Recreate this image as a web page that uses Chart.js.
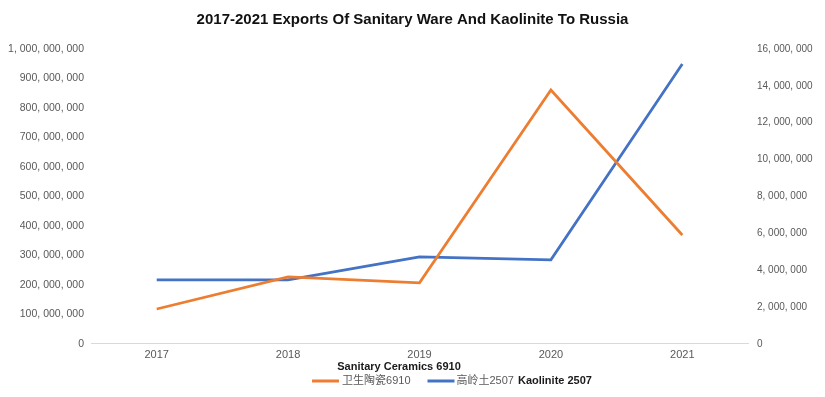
<!DOCTYPE html>
<html>
<head>
<meta charset="utf-8">
<script src="https://cdn.jsdelivr.net/npm/chart.js@4/dist/chart.umd.min.js"></script>
<style>
  html, body { margin: 0; padding: 0; background: #fff; }
  #wrap { width: 825px; height: 397px; }
</style>
</head>
<body>
<div id="wrap"><canvas id="myChart" width="825" height="397"></canvas></div>
<script>
// data
let years = ['2017', '2018', '2019', '2020', '2021'];
let ceramicsLabel = '卫生陶瓷6910';
let kaolinLabel = '高岭土2507';
let ceramics = [118000000, 227000000, 207000000, 861000000, 369000000];
let kaolin = [3470000, 3470000, 4720000, 4560000, 15190000];
let leftTicks = [0, 1000000000, 100000000];
let rightTicks = [0, 16000000, 2000000];

const fmt = v => v.toLocaleString('en-US').replace(/,/g, ', ');
const font = '"Liberation Sans", "Noto Sans CJK SC", Arial, sans-serif';

// legend drawn by hand, plus the English captions next to it
const legendLine = {
  id: 'legendLine',
  afterDraw(chart) {
    let ctx = chart.ctx;
    let sets = chart.data.datasets;
    let y = 381;
    ctx.save();
    ctx.font = '11px ' + font;
    ctx.textBaseline = 'middle';
    ctx.textAlign = 'left';
    let w0 = ctx.measureText(sets[0].label).width;
    let w1 = ctx.measureText(sets[1].label).width;
    let total = 27 + 3 + w0 + 17 + 27 + 2 + w1;
    let x = 413 - total / 2;
    [[sets[0], w0, 3], [sets[1], w1, 2]].forEach(([ds, w, gap], i) => {
      ctx.strokeStyle = ds.borderColor;
      ctx.lineWidth = 3;
      ctx.beginPath();
      ctx.moveTo(x, y);
      ctx.lineTo(x + 27, y);
      ctx.stroke();
      ctx.fillStyle = '#595959';
      ctx.fillText(ds.label, x + 27 + gap, y);
      x += 27 + gap + w + 17;
    });
    ctx.fillStyle = '#1a1a1a';
    ctx.font = 'bold 11px ' + font;
    ctx.textAlign = 'center';
    ctx.fillText('Sanitary Ceramics 6910', 399, 367);
    ctx.textAlign = 'left';
    ctx.fillText('Kaolinite 2507', x - 17 + 4, y);
    ctx.restore();
  }
};

new Chart('myChart', {
  type: 'line',
  data: {
    labels: years,
    datasets: [{
      label: ceramicsLabel,
      data: ceramics,
      yAxisID: 'y',
      borderColor: '#ED7D31',
      backgroundColor: '#ED7D31',
      borderWidth: 2.75,
      pointRadius: 0,
      tension: 0
    }, {
      label: kaolinLabel,
      data: kaolin,
      yAxisID: 'y1',
      borderColor: '#4472C4',
      backgroundColor: '#4472C4',
      borderWidth: 2.75,
      pointRadius: 0,
      tension: 0
    }]
  },
  options: {
    responsive: false,
    animation: false,
    layout: { padding: { top: 0, left: 0, right: 0, bottom: 30 } },
    plugins: {
      title: {
        display: true,
        text: '2017-2021 Exports Of Sanitary Ware And Kaolinite To Russia',
        color: '#111',
        font: { family: font, size: 15, weight: 'bold' },
        padding: { top: 11, bottom: 20 }
      },
      legend: { display: false },
      tooltip: { enabled: false }
    },
    scales: {
      x: {
        offset: true,
        grid: { display: false, drawTicks: false },
        border: { display: true, color: '#d9d9d9', width: 1 },
        ticks: {
          color: '#595959',
          padding: 5,
          autoSkip: false,
          maxRotation: 0,
          font: { family: font, size: 11 }
        }
      },
      y: {
        position: 'left',
        min: leftTicks[0],
        max: leftTicks[1],
        grid: { display: false, drawTicks: false },
        border: { display: false },
        ticks: {
          stepSize: leftTicks[2],
          color: '#595959',
          padding: 7,
          font: { family: font, size: 10.5 },
          callback: v => fmt(v)
        },
        afterFit: s => { s.width = 91; }
      },
      y1: {
        position: 'right',
        min: rightTicks[0],
        max: rightTicks[1],
        grid: { display: false, drawTicks: false },
        border: { display: false },
        ticks: {
          stepSize: rightTicks[2],
          color: '#595959',
          padding: 9,
          font: { family: font, size: 10 },
          callback: v => fmt(v)
        },
        afterFit: s => { s.width = 77; }
      }
    }
  },
  plugins: [legendLine]
});
</script>
</body>
</html>
